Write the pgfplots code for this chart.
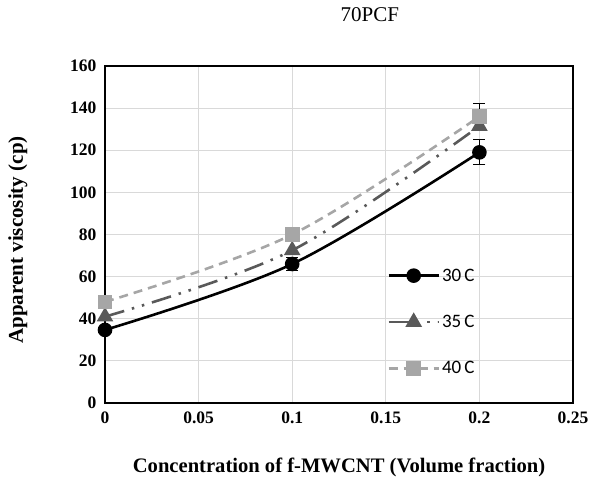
\documentclass[border=0pt]{standalone}
\usepackage{fontspec}
\setmainfont{Liberation Serif}
\newfontfamily\legfont{Carlito}
\usepackage{pgfplots}
\pgfplotsset{compat=1.18}
\definecolor{cA}{HTML}{000000}
\definecolor{cB}{HTML}{595959}
\definecolor{cC}{HTML}{A6A6A6}
\definecolor{gridc}{HTML}{D9D9D9}
\begin{document}
\begin{tikzpicture}
\begin{axis}[
  scale only axis, width=468pt, height=337pt,
  xmin=0, xmax=0.25, ymin=0, ymax=160,
  xtick={0,0.05,0.1,0.15,0.2,0.25},
  xticklabels={0,0.05,0.1,0.15,0.2,0.25},
  ytick={0,20,...,160},
  grid=major, grid style={draw=gridc, line width=0.9pt},
  axis line style={line width=1.6pt},
  tick style={draw=none},
  /pgf/number format/assume math mode=true,
  ticklabel style={font=\fontsize{17.5}{19}\selectfont\bfseries},
  xticklabel style={yshift=-5pt},
  yticklabel style={xshift=-5pt},
  clip=false,
  legend style={at={(rel axis cs:0.603,0.405)}, anchor=north west, draw=none, fill=none,
    font=\legfont\fontsize{19}{20}\selectfont, row sep=28.5pt, inner sep=0pt,
    cells={anchor=west}},
  legend image code/.code={\draw[mark repeat=2,mark phase=2,#1] plot coordinates {(0pt,0pt) (25pt,0pt) (50pt,0pt)};},
]
\addplot[cA, line width=2.6pt, smooth, tension=0.55, mark=*, mark size=6pt, mark options={solid},
  error bars/.cd, y dir=both, y explicit,
  error bar style={line width=1pt, black},
  error mark options={rotate=90, mark size=6pt, line width=1pt, black}]
  coordinates {(0,34.7) +- (0,0) (0.1,66) +- (0,3.3) (0.2,119) +- (0,6)};
\addlegendentry{30\,C}
\addplot[cB, line width=2.6pt, smooth, tension=0.55, mark=triangle*, mark size=7pt, mark options={solid},
  dash pattern=on 20pt off 8pt on 2.5pt off 8pt on 2.5pt off 8pt]
  coordinates {(0,41) (0.1,72.5) (0.2,131.5)};
\addlegendentry{35\,C}
\addplot[cC, line width=2.6pt, smooth, tension=0.55, mark=square*, mark size=6pt, mark options={solid},
  dash pattern=on 9pt off 6pt,
  error bars/.cd, y dir=both, y explicit,
  error bar style={line width=1pt, black, solid},
  error mark options={rotate=90, mark size=6pt, line width=1pt, black, solid}]
  coordinates {(0,48) +- (0,0) (0.1,80) +- (0,3.3) (0.2,136) +- (0,6)};
\addlegendentry{40\,C}
\node[font=\fontsize{20.6}{22}\selectfont\bfseries] at (rel axis cs:0.5,-0.19) {Concentration of f-MWCNT (Volume fraction)};
\node[font=\fontsize{21}{23}\selectfont\bfseries, rotate=90] at (rel axis cs:-0.186,0.484) {Apparent viscosity (cp)};
\node[font=\fontsize{21}{23}\selectfont] at (rel axis cs:0.566,1.151) {70PCF};
\end{axis}
\pgfresetboundingbox
\path ([shift={(-105pt,-74pt)}]current axis.south west) rectangle ++(594pt,477pt);
\end{tikzpicture}
\end{document}
